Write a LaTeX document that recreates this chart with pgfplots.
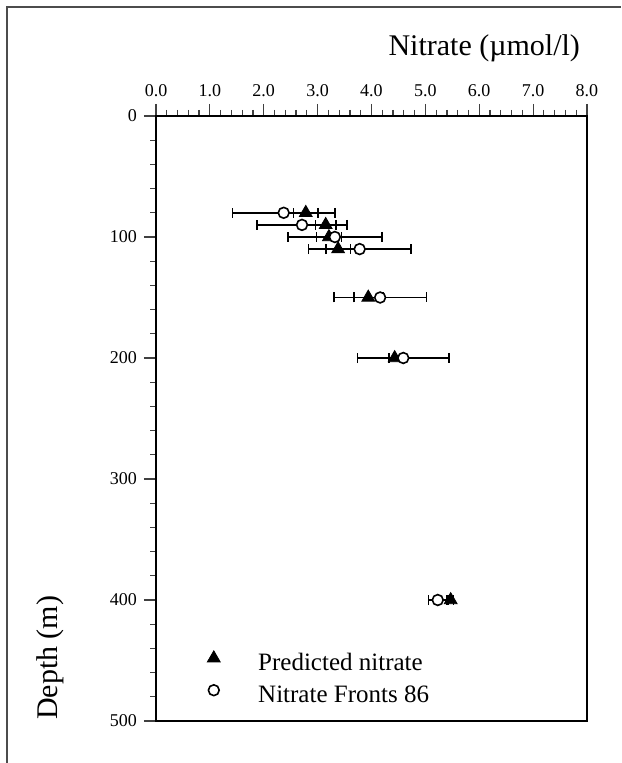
\documentclass[border=0pt]{standalone}
\usepackage{pgfplots}
\pgfplotsset{compat=1.18}
\usepackage{fontspec}
\setmainfont{Liberation Serif}

\pgfplotstableread{
x     y    e
2.78  80   0.23
3.15  90   0.19
3.21  100  0.23
3.38  110  0.23
3.94  150  0.27
4.43  200  0.11
5.47  400  0.05
}\predicted

\pgfplotstableread{
x     y    e
2.37  80   0.95
2.71  90   0.84
3.32  100  0.87
3.78  110  0.95
4.16  150  0.86
4.59  200  0.85
5.23  400  0.17
}\fronts

\begin{document}
\begin{tikzpicture}
\begin{axis}[
    scale only axis,
    width=215.5pt, height=302.5pt,
    xmin=0, xmax=8, ymin=0, ymax=500,
    y dir=reverse,
    xtick={0,1,...,8}, minor x tick num=4,
    ytick={0,100,...,500}, minor y tick num=4,
    xtick pos=upper, xticklabel pos=upper,
    ytick pos=lower, yticklabel pos=lower,
    tick align=outside,
    major tick length=6pt, minor tick length=3pt,
    axis line style={line width=1.1pt},
    every tick/.style={black!75, line width=0.6pt},
    tick label style={font=\fontsize{9}{10}\selectfont},
    xticklabel style={/pgf/number format/.cd, fixed, fixed zerofill, precision=1},
    /pgf/number format/assume math mode=true,
    xlabel={Nitrate (µmol/l)},
    ylabel={Depth (m)},
    xlabel style={at={(axis description cs:1,1.1008)}, anchor=base east, font=\fontsize{15}{18}\selectfont},
    ylabel style={at={(axis description cs:-0.2274,-0.0099)}, anchor=base west, font=\fontsize{15}{18}\selectfont},
    legend cell align=left,
    legend image code/.code={\path (-4pt,0pt) (4pt,0pt); \draw[#1] plot coordinates {(0pt,1.5pt)};},
    legend style={at={(axis description cs:0.1137,0.0304)}, anchor=south west,
        draw=none, fill=none, inner sep=0pt, row sep=7pt,
        font=\fontsize{12.5}{15}\selectfont,
        nodes={inner sep=0pt, text height=9pt, text depth=0pt},
        /tikz/every odd column/.append style={column sep=18pt}},
  ]
  \addplot[only marks, black, mark=triangle*, mark size=3.7pt,
      mark options={fill=black, line width=0.4pt},
      error bars/.cd, x dir=both, x explicit,
      error bar style={line width=0.8pt, black},
      error mark options={rotate=90, mark size=2.5pt, line width=0.8pt, black}]
    table[x=x, y=y, x error=e] {\predicted};
  \addplot[only marks, black, mark=*, mark size=2.7pt,
      mark options={fill=white, draw=black, line width=0.8pt},
      error bars/.cd, x dir=both, x explicit,
      error bar style={line width=0.8pt, black},
      error mark options={rotate=90, mark size=2.5pt, line width=0.8pt, black}]
    table[x=x, y=y, x error=e] {\fronts};
  \legend{Predicted nitrate, Nitrate Fronts 86}
\end{axis}
\draw[line width=0.75pt, black!70] (-74.5pt,-21pt) -- (-74.5pt,357pt) -- (232.5pt,357pt);
\pgfresetboundingbox
\useasboundingbox (-78pt,-21pt) rectangle (232.5pt,360.5pt);
\end{tikzpicture}
\end{document}
